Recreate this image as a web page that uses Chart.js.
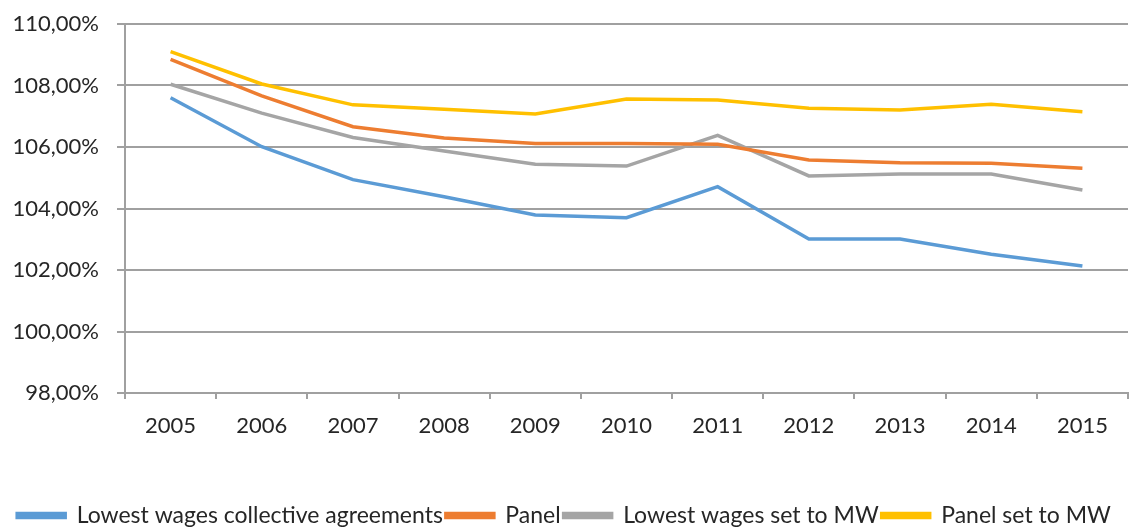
<!DOCTYPE html>
<html>
<head>
<meta charset="utf-8">
<script src="https://cdn.jsdelivr.net/npm/chart.js@4/dist/chart.umd.min.js"></script>
<style>
    html, body { margin: 0; padding: 0; background: #ffffff; }
    #wrap { width: 1132px; height: 528px; position: relative; }
</style>
</head>
<body>
<div id="wrap"><canvas id="chart"></canvas></div>
<script>
// Data (values in %)
const years = ['2005', '2006', '2007', '2008', '2009', '2010', '2011', '2012', '2013', '2014', '2015'];
const lowestWagesCA = [107.60, 106.01, 104.94, 104.38, 103.79, 103.70, 104.71, 103.01, 103.01, 102.51, 102.13];
const panel = [108.85, 107.66, 106.66, 106.29, 106.11, 106.11, 106.09, 105.58, 105.49, 105.47, 105.31];
const lowestWagesMW = [108.04, 107.10, 106.31, 105.87, 105.44, 105.38, 106.38, 105.06, 105.12, 105.12, 104.60];
const panelMW = [109.10, 108.05, 107.37, 107.23, 107.07, 107.56, 107.53, 107.26, 107.20, 107.39, 107.15];

const seriesNames = ['Lowest wages collective agreements', 'Panel', 'Lowest wages set to MW', 'Panel set to MW'];
const seriesColors = ['#5b9bd5', '#ed7d31', '#a5a5a5', '#ffc000'];

const fontFamily = "Lato, 'Liberation Sans', sans-serif";
const textColor = '#262626';
const gridColor = '#a0a0a0';

function makeDataset(i, values) {
    return {
        label: seriesNames[i],
        data: values,
        borderColor: seriesColors[i],
        backgroundColor: seriesColors[i],
        borderWidth: 3.5,
        pointRadius: 0,
        tension: 0,
        fill: false
    };
}

const ctx = document.getElementById('chart').getContext('2d');
new Chart(ctx, {
    type: 'line',
    data: {
        labels: years,
        datasets: [
            makeDataset(0, lowestWagesCA),
            makeDataset(1, panel),
            makeDataset(2, lowestWagesMW),
            makeDataset(3, panelMW)
        ]
    },
    options: {
        responsive: true,
        maintainAspectRatio: false,
        animation: false,
        layout: {
            padding: { top: 24, right: 4, left: 0, bottom: -9 }
        },
        plugins: {
            legend: {
                position: 'bottom',
                labels: {
                    boxWidth: 48,
                    boxHeight: 4,
                    padding: 3,
                    color: textColor,
                    font: { family: fontFamily, size: 23, lineHeight: 1 }
                }
            },
            tooltip: { enabled: false }
        },
        scales: {
            x: {
                offset: true,
                grid: {
                    offset: true,
                    drawOnChartArea: false,
                    drawTicks: true,
                    tickLength: 6,
                    color: gridColor,
                    lineWidth: 2
                },
                border: { display: true, color: gridColor, width: 2 },
                ticks: {
                    color: textColor,
                    padding: 14,
                    maxRotation: 0,
                    font: { family: fontFamily, size: 22 }
                },
                afterFit: function(scale) {
                    scale.height = 108;
                }
            },
            y: {
                min: 98,
                max: 110,
                grid: {
                    color: gridColor,
                    lineWidth: 2,
                    tickLength: 8
                },
                border: { display: true, color: gridColor, width: 2 },
                ticks: {
                    stepSize: 2,
                    color: textColor,
                    padding: 18,
                    font: { family: fontFamily, size: 22 },
                    callback: function(value) {
                        return value.toFixed(2).replace('.', ',') + '%';
                    }
                },
                afterFit: function(scale) {
                    scale.width = 125;
                    scale.paddingTop = 0;
                    scale.paddingBottom = 0;
                }
            }
        }
    }
});
</script>
</body>
</html>
